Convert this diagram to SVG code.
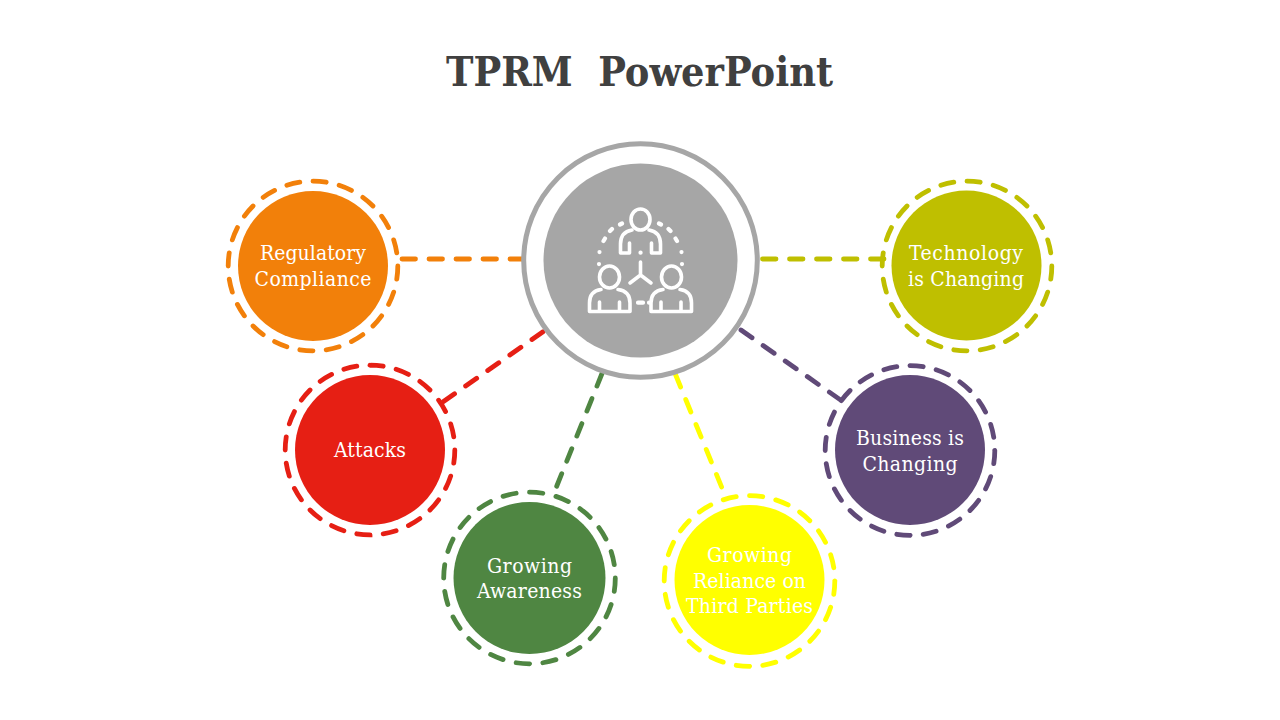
<svg xmlns="http://www.w3.org/2000/svg" width="1280" height="720" viewBox="0 0 1280 720">
<style>
text{font-family:"DejaVu Serif Condensed","Liberation Serif",serif}
.t{font-size:21px;fill:#fff;text-anchor:middle}
.title{font-size:41px;font-weight:700;fill:#404040}
.r{fill:none;stroke-width:4.8;stroke-linecap:round;stroke-dasharray:13.5 13.5}
.c{fill:none;stroke-width:4.8;stroke-linecap:round;stroke-dasharray:13.5 13.5}
.i{fill:none;stroke:#fff;stroke-width:3.6;stroke-linecap:round;stroke-linejoin:round}
.d{stroke-width:4.2}
</style>
<rect width="1280" height="720" fill="#fff"/>
<text class="title" x="446" y="86" textLength="387" xml:space="preserve">TPRM  PowerPoint</text>
<g id="connectors">
<path class="c" stroke="#f2800a" d="M402 259H525"/>
<path class="c" stroke="#bfbf00" d="M884 259H759"/>
<path class="c" stroke="#e61f14" d="M443.5 401.5L547 329"/>
<path class="c" stroke="#604a78" d="M741 330L842 401"/>
<path class="c" stroke="#4f8642" d="M602 373.5L556 488"/>
<path class="c" stroke="#ffff00" d="M675.5 374.5L722 488"/>
</g>
<g id="center">
<circle cx="640.5" cy="260.5" r="116.8" fill="#fff" stroke="#a6a6a6" stroke-width="5"/>
<circle cx="640.5" cy="260.5" r="97" fill="#a6a6a6"/>
<g class="i">
<ellipse cx="640.5" cy="219.5" rx="9.5" ry="10.5"/>
<path d="M629.5 243V253H620.5V244Q620.5 232 632 230M651.5 243V253H660.5V244Q660.5 232 649 230"/>
<path d="M640.5 262V275M640.5 275L630 283M640.5 275L651 283"/>
<ellipse cx="609.5" cy="277" rx="10" ry="11"/>
<ellipse cx="671.5" cy="277" rx="10" ry="11"/>
<path d="M601 289.5Q589.5 291 589.5 303V311.5H630V303Q630 291 618 289.5M599.5 302V311M619.5 302V311"/>
<path d="M663 289.5Q651 291 651 303V311.5H691.5V303Q691.5 291 680 289.5M661 302V311M681 302V311"/>
<path class="d" d="M640.5 252.7h.1M638 302.7H643M649 302.7h.1M599 264v.1M599.5 252v.1M603.5 241L605 238.5M610 231L612 229M620 224.5L622 223.5M682 264v.1M681.5 252v.1M677 241L675.5 238.5M670.5 231L668.5 229M661 224.5L659 223.5"/>
</g>
</g>
<g id="node-regulatory">
<circle class="r" cx="313" cy="266" r="84.8" stroke="#f2800a" pathLength="540"/>
<circle cx="313" cy="266" r="75" fill="#f2800a"/>
<text class="t" x="313" y="260" textLength="106">Regulatory</text>
<text class="t" x="313" y="286" textLength="117">Compliance</text>
</g>
<g id="node-attacks">
<circle class="r" cx="370" cy="450" r="84.8" stroke="#e61f14" pathLength="540"/>
<circle cx="370" cy="450" r="75" fill="#e61f14"/>
<text class="t" x="370" y="457" textLength="72">Attacks</text>
</g>
<g id="node-awareness">
<circle class="r" cx="529.5" cy="578" r="85.8" stroke="#4f8642" pathLength="540"/>
<circle cx="529.5" cy="578" r="76" fill="#4f8642"/>
<text class="t" x="529.5" y="573" textLength="85">Growing</text>
<text class="t" x="529.5" y="598" textLength="105">Awareness</text>
</g>
<g id="node-reliance">
<circle class="r" cx="749.5" cy="581" r="85.3" stroke="#ffff00" pathLength="540"/>
<circle cx="749.5" cy="580" r="75" fill="#ffff00"/>
<text class="t" x="749.5" y="562" textLength="85">Growing</text>
<text class="t" x="749.5" y="587.5" textLength="113">Reliance on</text>
<text class="t" x="749.5" y="613" textLength="127">Third Parties</text>
</g>
<g id="node-business">
<circle class="r" cx="910" cy="450.5" r="84.8" stroke="#604a78" pathLength="540"/>
<circle cx="910" cy="450" r="75" fill="#604a78"/>
<text class="t" x="910" y="445" textLength="108">Business is</text>
<text class="t" x="910" y="471" textLength="95">Changing</text>
</g>
<g id="node-technology">
<circle class="r" cx="967" cy="266" r="84.8" stroke="#bfbf00" pathLength="540"/>
<circle cx="966.5" cy="265.5" r="75" fill="#bfbf00"/>
<text class="t" x="966" y="260" textLength="114">Technology</text>
<text class="t" x="966" y="286" textLength="116">is Changing</text>
</g>
</svg>
